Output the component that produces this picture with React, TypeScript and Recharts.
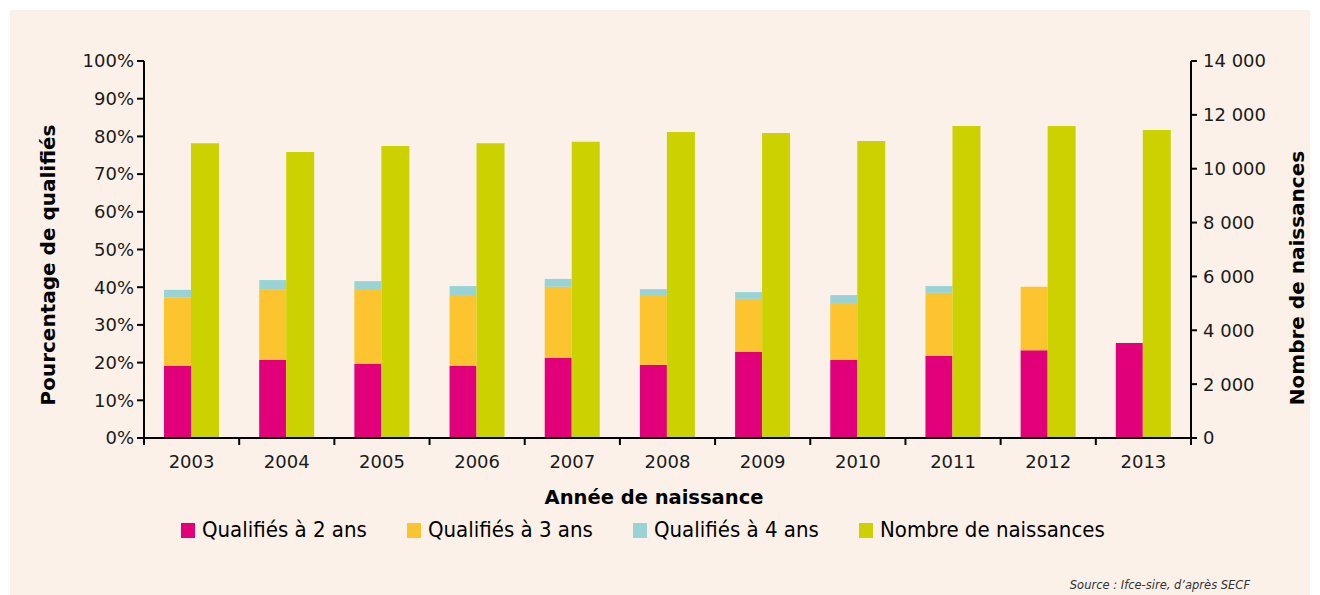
import { ComposedChart, Bar, XAxis, YAxis, Label } from "recharts";

const years = ["2003", "2004", "2005", "2006", "2007", "2008", "2009", "2010", "2011", "2012", "2013"];
const qualifies2 = [19.1, 20.7, 19.6, 19.1, 21.2, 19.4, 22.8, 20.7, 21.8, 23.3, 25.2];
const qualifies3 = [18.1, 18.6, 19.9, 18.8, 18.9, 18.5, 14.1, 15.1, 16.7, 16.8, null];
const qualifies4 = [2.1, 2.6, 2.1, 2.4, 2.1, 1.6, 1.8, 2.1, 1.8, null, null];
const naissances = [10950, 10620, 10840, 10950, 11000, 11360, 11330, 11030, 11590, 11590, 11440];

const pctTicks = [0, 10, 20, 30, 40, 50, 60, 70, 80, 90, 100];
const countTicks = [0, 2000, 4000, 6000, 8000, 10000, 12000, 14000];

const legendItems = [
  { label: "Qualifiés à 2 ans", color: "#E2007A" },
  { label: "Qualifiés à 3 ans", color: "#FCC530" },
  { label: "Qualifiés à 4 ans", color: "#99D3D6" },
  { label: "Nombre de naissances", color: "#CCD100" },
];

const data = years.map((year, i) => ({
  year,
  q2: qualifies2[i],
  q3: qualifies3[i],
  q4: qualifies4[i],
  births: naissances[i],
}));

const W = 1320;
const H = 595;
const PLOT_LEFT = 144;
const PLOT_RIGHT = 1191;
const PLOT_BOTTOM = 438;
const BAND = (PLOT_RIGHT - PLOT_LEFT) / years.length;
const FONT = "'DejaVu Sans', Verdana, sans-serif";

const formatCount = (v: number) => String(v).replace(/\B(?=(\d{3})+(?!\d))/g, " ");

const XTick = (props: any) => {
  const { x, payload, index } = props;
  const last = index === years.length - 1;
  return (
    <g>
      <line x1={x - BAND / 2} x2={x - BAND / 2} y1={PLOT_BOTTOM} y2={PLOT_BOTTOM + 7} stroke="#000" strokeWidth={2} />
      {last && (
        <line x1={x + BAND / 2} x2={x + BAND / 2} y1={PLOT_BOTTOM} y2={PLOT_BOTTOM + 7} stroke="#000" strokeWidth={2} />
      )}
      <text x={x} y={PLOT_BOTTOM + 30} textAnchor="middle" fontFamily={FONT} fontSize={18} fill="#1a1a1a">
        {payload.value}
      </text>
    </g>
  );
};

const verticalTitle = (text: string, cx: number, cy: number) => () =>
  (
    <text
      x={cx}
      y={cy}
      transform={`rotate(-90, ${cx}, ${cy})`}
      textAnchor="middle"
      dominantBaseline="central"
      fontFamily={FONT}
      fontWeight="bold"
      fontSize={20}
      fill="#000"
    >
      {text}
    </text>
  );

export default function App() {
  return (
    <div style={{ position: "absolute", left: 0, top: 0, width: W, height: H, background: "#fff", overflow: "hidden" }}>
      <div style={{ position: "absolute", left: 10, top: 10, width: 1300, height: 600, background: "#FCF1E8" }} />
      <div style={{ position: "absolute", left: 0, top: 0 }}>
        <ComposedChart
          width={W}
          height={H}
          data={data}
          margin={{ top: 61, right: 49, bottom: 127, left: 64 }}
          barGap={0}
        >
          <XAxis
            dataKey="year"
            xAxisId="x"
            height={30}
            axisLine={{ stroke: "#000", strokeWidth: 2 }}
            tickLine={false}
            tick={<XTick />}
            interval={0}
          >
            <Label
              content={() => (
                <text x={654} y={504} textAnchor="middle" fontFamily={FONT} fontWeight="bold" fontSize={19.5} fill="#000">
                  Année de naissance
                </text>
              )}
            />
          </XAxis>
          <YAxis
            yAxisId="pct"
            orientation="left"
            width={80}
            domain={[0, 100]}
            ticks={pctTicks}
            tickFormatter={(v) => `${v}%`}
            axisLine={{ stroke: "#000", strokeWidth: 2 }}
            tickLine={{ stroke: "#000", strokeWidth: 2 }}
            tickSize={7}
            tickMargin={3}
            tick={{ fontFamily: FONT, fontSize: 18, fill: "#1a1a1a" }}
          >
            <Label content={verticalTitle("Pourcentage de qualifiés", 48, 265)} />
          </YAxis>
          <YAxis
            yAxisId="count"
            orientation="right"
            width={80}
            domain={[0, 14000]}
            ticks={countTicks}
            tickFormatter={formatCount}
            axisLine={{ stroke: "#000", strokeWidth: 2 }}
            tickLine={{ stroke: "#000", strokeWidth: 2 }}
            tickSize={6}
            tickMargin={6}
            tick={{ fontFamily: FONT, fontSize: 18, fill: "#1a1a1a" }}
          >
            <Label content={verticalTitle("Nombre de naissances", 1297, 278)} />
          </YAxis>
          <Bar dataKey="q2" xAxisId="x" yAxisId="pct" stackId="q" barSize={27} fill="#E2007A" isAnimationActive={false} />
          <Bar dataKey="q3" xAxisId="x" yAxisId="pct" stackId="q" barSize={27} fill="#FCC530" isAnimationActive={false} />
          <Bar dataKey="q4" xAxisId="x" yAxisId="pct" stackId="q" barSize={27} fill="#99D3D6" isAnimationActive={false} />
          <Bar dataKey="births" xAxisId="x" yAxisId="count" barSize={28} fill="#CCD100" isAnimationActive={false} />
        </ComposedChart>
      </div>
      <div
        style={{
          position: "absolute",
          top: 519,
          left: 181,
          display: "flex",
          fontFamily: "'DejaVu Sans Condensed', 'Liberation Sans Narrow', sans-serif",
          fontSize: 22,
          color: "#000",
          lineHeight: "22px",
          whiteSpace: "nowrap",
        }}
      >
        {legendItems.map((item) => (
          <div key={item.label} style={{ display: "flex", alignItems: "center", width: 226, flexShrink: 0 }}>
            <span
              style={{ display: "inline-block", width: 14, height: 15, background: item.color, marginRight: 7, flexShrink: 0 }}
            />
            <span>{item.label}</span>
          </div>
        ))}
      </div>
      <div
        style={{
          position: "absolute",
          right: 70,
          top: 578,
          fontFamily: FONT,
          fontStyle: "italic",
          fontSize: 11.5,
          color: "#333",
          whiteSpace: "nowrap",
        }}
      >
        Source : Ifce-sire, d’après SECF
      </div>
    </div>
  );
}
